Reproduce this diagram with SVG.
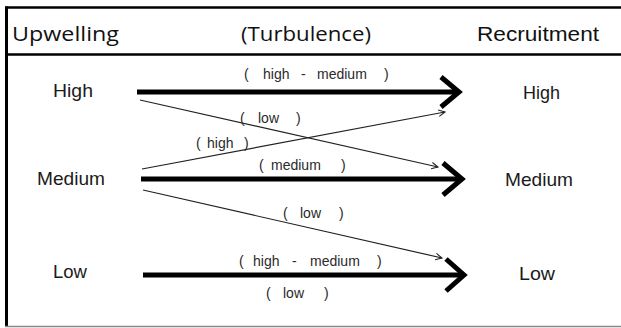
<svg xmlns="http://www.w3.org/2000/svg" width="621" height="328" viewBox="0 0 621 328">
  <style>
    .hdr { font-family: "Open Sans", "Liberation Sans", sans-serif; font-size: 20.5px; fill: #111; }
    .hdr2 { font-family: "Liberation Sans", Arial, sans-serif; font-size: 20px; fill: #111; }
    .lvl { font-family: "Liberation Sans", Arial, sans-serif; font-size: 18.5px; fill: #1a1a1a; }
    .lbl { font-family: "Liberation Sans", Arial, sans-serif; font-size: 14px; fill: #2a2a2a; }
    .thick { stroke: #000; stroke-width: 5; fill: none; }
    .head { stroke: #000; stroke-width: 5; fill: none; stroke-linejoin: miter; stroke-miterlimit: 10; }
    .thin { stroke: #222; stroke-width: 1.2; fill: none; marker-end: url(#open); }
  </style>
  <defs>
    <marker id="open" viewBox="0 0 10 10" refX="9" refY="5" markerWidth="8" markerHeight="8" markerUnits="userSpaceOnUse" orient="auto">
      <path d="M1,1 L9,5 L1,9" fill="none" stroke="#222" stroke-width="1.3"/>
    </marker>
  </defs>
  <rect width="621" height="328" fill="#fff"/>
  <g id="frame">
    <line x1="5" y1="7.5" x2="621" y2="7.5" stroke="#000" stroke-width="2.5"/>
    <line x1="6.5" y1="6.5" x2="6.5" y2="327" stroke="#000" stroke-width="3"/>
    <line x1="8" y1="54.5" x2="621" y2="54.5" stroke="#000" stroke-width="2.5"/>
    <line x1="5" y1="326.5" x2="621" y2="326.5" stroke="#888" stroke-width="1.5"/>
  </g>
  <g id="headers">
    <text class="hdr" x="12" y="41" textLength="107" lengthAdjust="spacingAndGlyphs">Upwelling</text>
    <text class="hdr" x="241" y="41" textLength="130" lengthAdjust="spacingAndGlyphs">(Turbulence)</text>
    <text class="hdr2" x="477" y="41" textLength="122" lengthAdjust="spacingAndGlyphs">Recruitment</text>
  </g>
  <g id="up-high"><text class="lvl" x="53" y="97" textLength="40" lengthAdjust="spacingAndGlyphs">High</text></g>
  <g id="up-medium"><text class="lvl" x="37" y="185" textLength="68" lengthAdjust="spacingAndGlyphs">Medium</text></g>
  <g id="up-low"><text class="lvl" x="53" y="278" textLength="34" lengthAdjust="spacingAndGlyphs">Low</text></g>
  <g id="rec-high"><text class="lvl" x="523" y="99" textLength="37" lengthAdjust="spacingAndGlyphs">High</text></g>
  <g id="rec-medium"><text class="lvl" x="505" y="186" textLength="68" lengthAdjust="spacingAndGlyphs">Medium</text></g>
  <g id="rec-low"><text class="lvl" x="519" y="280" textLength="36" lengthAdjust="spacingAndGlyphs">Low</text></g>
  <g id="connectors">
    <line class="thick" x1="137" y1="92" x2="458" y2="92"/>
    <polyline class="head" points="441,77 459,92 441,107"/>
    <line class="thick" x1="141" y1="179" x2="461" y2="179"/>
    <polyline class="head" points="443,163 462,179 443,195"/>
    <line class="thick" x1="143" y1="275" x2="463" y2="275"/>
    <polyline class="head" points="446,259 464,275 446,291"/>
    <line class="thin" x1="140" y1="100" x2="438" y2="167"/>
    <line class="thin" x1="142" y1="169" x2="445" y2="112"/>
    <line class="thin" x1="143" y1="190" x2="442" y2="258"/>
  </g>
  <g id="labels">
    <text class="lbl" y="79"><tspan x="244">(</tspan><tspan x="263">high</tspan><tspan x="301">-</tspan><tspan x="317">medium</tspan><tspan x="384">)</tspan></text>
    <text class="lbl" y="123"><tspan x="240">(</tspan><tspan x="258">low</tspan><tspan x="296">)</tspan></text>
    <text class="lbl" y="148"><tspan x="196">(</tspan><tspan x="207">high</tspan><tspan x="244">)</tspan></text>
    <text class="lbl" y="170"><tspan x="259">(</tspan><tspan x="271">medium</tspan><tspan x="341">)</tspan></text>
    <text class="lbl" y="218"><tspan x="283">(</tspan><tspan x="300">low</tspan><tspan x="339">)</tspan></text>
    <text class="lbl" y="266"><tspan x="239">(</tspan><tspan x="253">high</tspan><tspan x="292">-</tspan><tspan x="310">medium</tspan><tspan x="377">)</tspan></text>
    <text class="lbl" y="298"><tspan x="266">(</tspan><tspan x="283">low</tspan><tspan x="324">)</tspan></text>
  </g>
</svg>
